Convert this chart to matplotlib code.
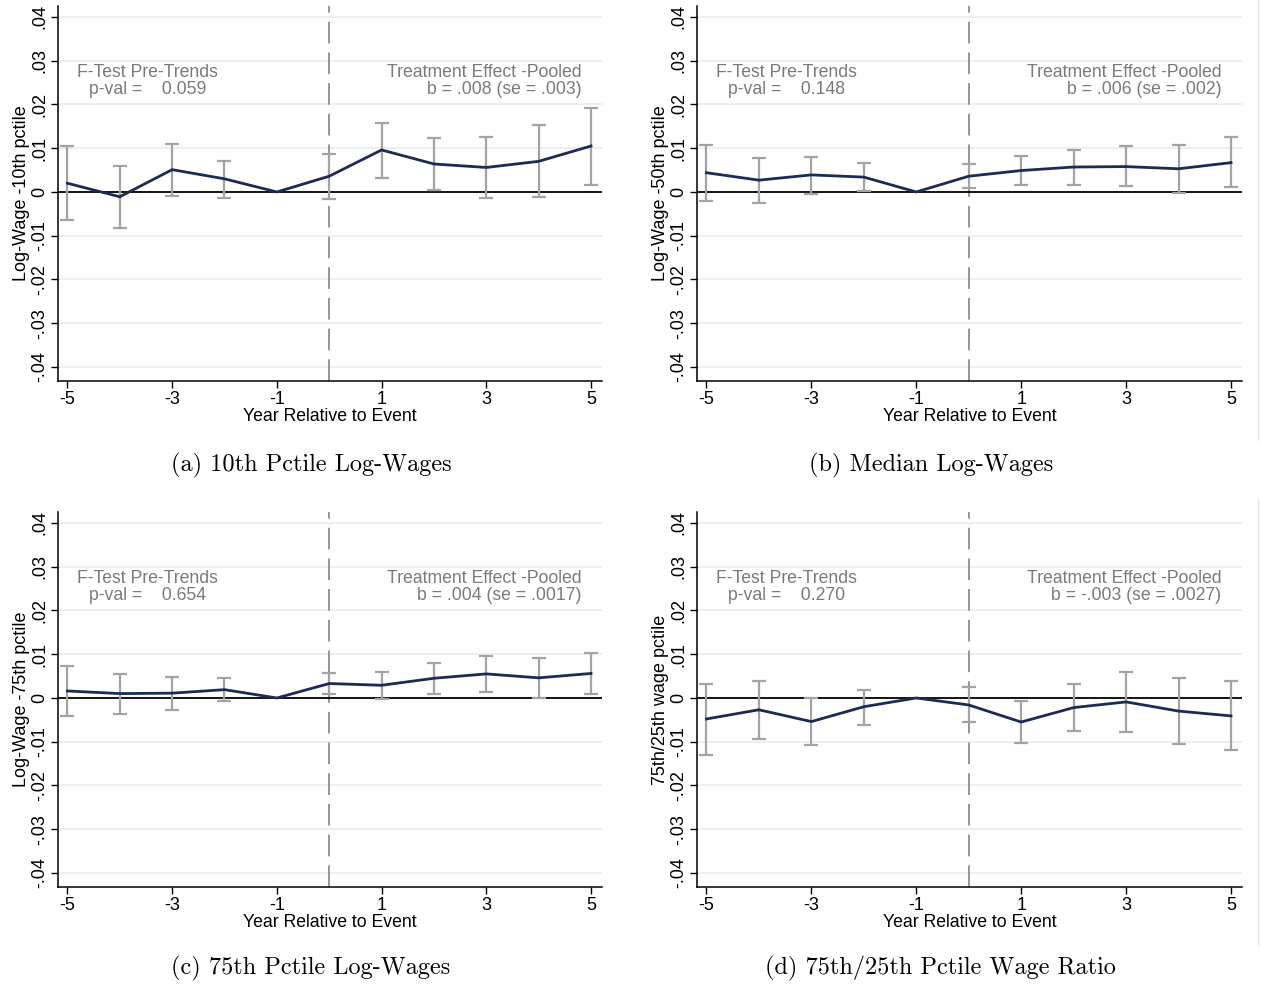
import matplotlib
matplotlib.use("Agg")
import matplotlib.pyplot as plt
import numpy as np

# ---------------- data ----------------
years = [-5, -4, -3, -2, -1, 0, 1, 2, 3, 4, 5]

coef_p10 = [0.0020, -0.0011, 0.0051, 0.0030, 0.0, 0.0036, 0.0096, 0.0064, 0.0056, 0.0070, 0.0105]
hi_p10   = [0.0105, 0.0059, 0.0109, 0.0070, 0.0, 0.0086, 0.0158, 0.0124, 0.0126, 0.0152, 0.0192]
lo_p10   = [-0.0063, -0.0083, -0.0009, -0.0013, 0.0, -0.0017, 0.0033, 0.0004, -0.0014, -0.0012, 0.0017]

coef_p50 = [0.0044, 0.0027, 0.0039, 0.0034, 0.0, 0.0036, 0.0049, 0.0057, 0.0058, 0.0053, 0.0067]
hi_p50   = [0.0108, 0.0078, 0.0080, 0.0066, 0.0, 0.0064, 0.0083, 0.0096, 0.0104, 0.0108, 0.0126]
lo_p50   = [-0.0020, -0.0026, -0.0004, 0.0003, 0.0, 0.0008, 0.0016, 0.0017, 0.0013, -0.0002, 0.0011]

coef_p75 = [0.0016, 0.0010, 0.0011, 0.0019, 0.0, 0.0033, 0.0029, 0.0045, 0.0055, 0.0046, 0.0056]
hi_p75   = [0.0073, 0.0055, 0.0048, 0.0045, 0.0, 0.0058, 0.0060, 0.0081, 0.0095, 0.0092, 0.0103]
lo_p75   = [-0.0042, -0.0036, -0.0027, -0.0006, 0.0, 0.0008, -0.0002, 0.0010, 0.0014, 0.0000, 0.0008]

coef_ratio = [-0.0048, -0.0027, -0.0054, -0.0020, 0.0, -0.0016, -0.0055, -0.0022, -0.0009, -0.0030, -0.0041]
hi_ratio   = [0.0033, 0.0039, 0.0000, 0.0019, 0.0, 0.0026, -0.0008, 0.0033, 0.0060, 0.0045, 0.0039]
lo_ratio   = [-0.0130, -0.0093, -0.0108, -0.0061, 0.0, -0.0056, -0.0102, -0.0076, -0.0078, -0.0105, -0.0120]

ylabels = ["Log-Wage -10th pctile", "Log-Wage -50th pctile",
           "Log-Wage -75th pctile", "75th/25th wage pctile"]
pvals = ["0.059", "0.148", "0.654", "0.270"]
effects = ["b = .008 (se = .003)", "b = .006 (se = .002)",
           "b = .004 (se = .0017)", "b = -.003 (se = .0027)"]
captions = ["(a) 10th Pctile Log-Wages", "(b) Median Log-Wages",
            "(c) 75th Pctile Log-Wages", "(d) 75th/25th Pctile Wage Ratio"]

xticks = [-5, -3, -1, 1, 3, 5]
yticks = [-0.04, -0.03, -0.02, -0.01, 0.0, 0.01, 0.02, 0.03, 0.04]
yticklabels = ["-.04", "-.03", "-.02", "-.01", "0", ".01", ".02", ".03", ".04"]

series = [(coef_p10, lo_p10, hi_p10), (coef_p50, lo_p50, hi_p50),
          (coef_p75, lo_p75, hi_p75), (coef_ratio, lo_ratio, hi_ratio)]

# ---------------- figure ----------------
W, H = 1261, 986
fig = plt.figure(figsize=(W / 100, H / 100), dpi=100)
SANS = ["Liberation Sans", "DejaVu Sans"]
SERIF = ["cmr10", "DejaVu Serif"]

# axes boxes in pixels: (left, top, right, bottom)
boxes = [(58, 6, 602, 381), (697, 6, 1242, 381),
         (58, 512, 602, 887), (697, 512, 1242, 887)]
caption_pos = [(311, 465), (931, 465), (311, 968), (940, 968)]

NAVY = "#1c2b55"
GRAY_BAR = "#a3a3a3"
GRID = "#e4edef"
TXT = "#7a7a7a"

for i, ((l, t, r, b), (coef, lo, hi)) in enumerate(zip(boxes, series)):
    ax = fig.add_axes([l / W, 1 - b / H, (r - l) / W, (b - t) / H])
    ax.set_xlim(-5.18, 5.21)
    ax.set_ylim(-0.0432, 0.0425)
    for yv in yticks:
        if yv != 0:
            ax.axhline(yv, color=GRID, lw=1.2, zorder=0)
    ax.axhline(0, color="black", lw=1.3, zorder=2)
    ax.axvline(0, color="#8c8c8c", lw=1.3, dashes=(12, 5), zorder=1)

    yarr = np.array(coef)
    err = np.array([yarr - np.array(lo), np.array(hi) - yarr])
    mask = np.array(years) != -1
    xs = np.array(years)[mask]
    ax.errorbar(xs, yarr[mask], yerr=err[:, mask], fmt="none",
                ecolor=GRAY_BAR, elinewidth=1.6, capsize=5, capthick=1.6, zorder=3)
    ax.plot(years, coef, color=NAVY, lw=2.0, zorder=4)

    ax.set_xticks(xticks)
    ax.set_xticklabels([str(v) for v in xticks], family=SANS, fontsize=13)
    ax.set_yticks(yticks)
    ax.set_yticklabels(yticklabels, family=SANS, fontsize=13, rotation=90, va="center")
    ax.tick_params(direction="out", length=5, width=1, color="black", pad=2)
    for s in ["top", "right"]:
        ax.spines[s].set_visible(False)
    for s in ["left", "bottom"]:
        ax.spines[s].set_linewidth(1.1)
    ax.set_xlabel("Year Relative to Event", family=SANS, fontsize=12.7, labelpad=0)
    ax.set_ylabel(ylabels[i], family=SANS, fontsize=13, labelpad=1)

    ax.text(-3.47, 0.0292, "F-Test Pre-Trends\np-val =    " + pvals[i],
            ha="center", va="top", multialignment="center",
            family=SANS, fontsize=12.7, color=TXT, linespacing=0.95)
    ax.text(4.82, 0.0292, "Treatment Effect -Pooled\n" + effects[i],
            ha="right", va="top", multialignment="right",
            family=SANS, fontsize=12.7, color=TXT, linespacing=0.95)

    cx, cy = caption_pos[i]
    fig.text(cx / W, 1 - cy / H, captions[i], ha="center", va="center",
             family=SERIF, fontsize=17.5, color="black")

# faint right border artifact
fig.add_artist(plt.Line2D([1258 / W, 1258 / W], [1 - 440 / H, 1.0], color="#e6e6e6", lw=1))
fig.add_artist(plt.Line2D([1258 / W, 1258 / W], [1 - 945 / H, 1 - 500 / H], color="#e6e6e6", lw=1))

fig.savefig("out.png", dpi=100, facecolor="white")
